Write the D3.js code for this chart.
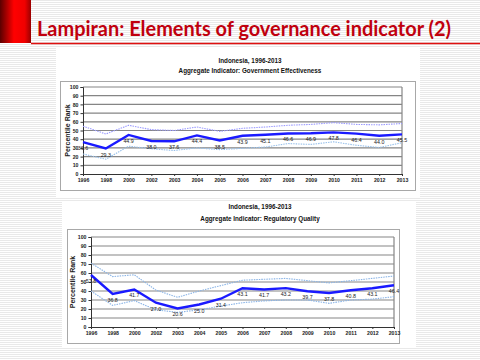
<!DOCTYPE html>
<html><head><meta charset="utf-8">
<script src="https://cdn.jsdelivr.net/npm/d3@7"></script>
<style>html,body{margin:0;padding:0;background:#fff;}svg{display:block;}</style>
</head><body>
<script>
// ---------- data ----------
const years = ["1996","1998","2000","2002","2003","2004","2005","2006","2007","2008","2009","2010","2011","2012","2013"];
const yTicks = [0,10,20,30,40,50,60,70,80,90,100];

// Government Effectiveness
const geRank  = [36.6,29.3,44.9,38.0,37.6,44.4,38.5,43.9,45.1,46.6,46.9,47.8,46.4,44.0,45.5];
const geUpper = [55,46,56,51,50,54,49,52.5,54,56,57,59,57,56.5,58];
const geLower = [23,17,32,29,27,30,28,29.5,31,35,34,37,33,30.5,36];

// Regulatory Quality
const rqRank  = [57.8,36.8,41.7,27.0,20.6,25.0,31.4,43.1,41.7,43.2,39.7,37.8,40.8,43.1,46.4];
const rqUpper = [71,56,58,41,33,40,46,52,53,54,51.5,49,51.5,54,56.7];
const rqLower = [40,24,29.3,19,16.3,19,23.3,27,29,30,30,26.3,30,31,33.7];

const slideTitle = "Lampiran: Elements of governance indicator (2)";

// ---------- slide ----------
const W = 480, H = 360;
const svg = d3.select("body").append("svg").attr("width", W).attr("height", H);
const defs = svg.append("defs");
const pat = defs.append("pattern").attr("id","stripes").attr("patternUnits","userSpaceOnUse")
  .attr("width",4).attr("height",2);
pat.append("rect").attr("width",4).attr("height",2).attr("fill","#ffffff");
pat.append("rect").attr("width",4).attr("height",1).attr("fill","#e9e9e9");
svg.append("rect").attr("width",W).attr("height",H).attr("fill","url(#stripes)");

const grad = defs.append("linearGradient").attr("id","redbar").attr("x1",0).attr("x2",1).attr("y1",0).attr("y2",0);
grad.append("stop").attr("offset","0%").attr("stop-color","#5a0000");
grad.append("stop").attr("offset","45%").attr("stop-color","#ff0000");
grad.append("stop").attr("offset","80%").attr("stop-color","#f00000");
grad.append("stop").attr("offset","100%").attr("stop-color","#9a0000");
svg.append("rect").attr("x",0).attr("y",0).attr("width",31).attr("height",43).attr("fill","url(#redbar)");
svg.append("line").attr("x1",31).attr("x2",W).attr("y1",43.5).attr("y2",43.5)
  .attr("stroke","#e01010").attr("stroke-width",1.5);
svg.append("text").attr("x",37).attr("y",36).text(slideTitle)
  .attr("font-family","Lato, 'Open Sans', sans-serif").attr("font-weight","bold")
  .attr("font-size",20).attr("fill","#c0000e")
  .attr("textLength",414).attr("lengthAdjust","spacingAndGlyphs");

// ---------- chart ----------
function drawChart(c) {
  const g = svg.append("g");
  g.append("rect").attr("x",c.img[0]).attr("y",c.img[1]).attr("width",c.img[2]).attr("height",c.img[3]).attr("fill","#fff");
  g.append("rect").attr("x",c.frame[0]+0.5).attr("y",c.frame[1]+0.5).attr("width",c.frame[2]).attr("height",c.frame[3])
    .attr("fill","#fff").attr("stroke","#a8a8a8").attr("stroke-width",1);
  const font = "Arial, 'Liberation Sans', sans-serif";
  g.append("text").attr("x",c.cx).attr("y",c.t1y).attr("text-anchor","middle").text(c.title1)
    .attr("font-family",font).attr("font-weight","bold").attr("font-size",6.3).attr("fill","#111");
  g.append("text").attr("x",c.cx).attr("y",c.t2y).attr("text-anchor","middle").text(c.title2)
    .attr("font-family",font).attr("font-weight","bold").attr("font-size",6.3).attr("fill","#111");

  const x = d3.scalePoint().domain(years).range([c.left, c.right]);
  const y = d3.scaleLinear().domain([0,100]).range([c.bottom, c.top]);

  // gridlines
  g.append("g").selectAll("line").data(yTicks.filter(d=>d>0)).join("line")
    .attr("x1",c.left).attr("x2",c.right).attr("y1",d=>y(d)).attr("y2",d=>y(d))
    .attr("stroke","#858585").attr("stroke-width",1.2);
  g.append("line").attr("x1",c.right).attr("x2",c.right).attr("y1",c.top).attr("y2",c.bottom)
    .attr("stroke","#858585").attr("stroke-width",1.2);

  // axes
  const ya = g.append("g").attr("transform",`translate(${c.left},0)`)
    .call(d3.axisLeft(y).tickValues(yTicks).tickSize(2.5).tickPadding(2));
  const xa = g.append("g").attr("transform",`translate(0,${c.bottom})`)
    .call(d3.axisBottom(x).tickSize(2).tickPadding(2.5));
  [ya, xa].forEach(a => {
    a.select(".domain").attr("stroke","#333").attr("stroke-width",1);
    a.selectAll(".tick line").attr("stroke","#333");
    a.selectAll("text").attr("font-family",font).attr("font-size",5.2).attr("fill","#222").attr("font-weight","bold");
  });
  g.append("text").attr("transform",`translate(${c.ylx},${(c.top+c.bottom)/2}) rotate(-90)`)
    .attr("text-anchor","middle").text("Percentile Rank")
    .attr("font-family",font).attr("font-weight","bold").attr("font-size",7).attr("fill","#222");

  const line = d3.line().x((d,i)=>x(years[i])).y(d=>y(d));
  g.append("path").datum(c.upper).attr("d",line).attr("fill","none")
    .attr("stroke",c.upperColor).attr("stroke-width",1.1).attr("stroke-dasharray","1.5,1");
  g.append("path").datum(c.lower).attr("d",line).attr("fill","none")
    .attr("stroke",c.lowerColor).attr("stroke-width",1.1).attr("stroke-dasharray","1.5,1");
  g.append("path").datum(c.rank).attr("d",line).attr("fill","none")
    .attr("stroke","#1a1aff").attr("stroke-width",2.4);

  g.append("g").selectAll("text").data(c.rank).join("text")
    .attr("x",(d,i)=>x(years[i])).attr("y",d=>y(d)+8).attr("text-anchor","middle")
    .text(d=>d.toFixed(1))
    .attr("font-family",font).attr("font-size",5.3).attr("fill","#222");
}

drawChart({
  img:[56,47,364,150], frame:[60,81,355,109],
  cx:250, t1y:63, t2y:73,
  title1:"Indonesia, 1996-2013", title2:"Aggregate Indicator: Government Effectiveness",
  left:83, right:402, top:87, bottom:174, ylx:70,
  rank:geRank, upper:geUpper, lower:geLower,
  upperColor:"#9a9aff", lowerColor:"#98c0ea"
});
drawChart({
  img:[62,201,354,147], frame:[67,229,332,114],
  cx:260, t1y:209, t2y:221,
  title1:"Indonesia, 1996-2013", title2:"Aggregate Indicator: Regulatory Quality",
  left:91, right:394, top:237, bottom:327, ylx:75,
  rank:rqRank, upper:rqUpper, lower:rqLower,
  upperColor:"#8ab4e6", lowerColor:"#8ab4e6"
});
</script>
</body></html>
